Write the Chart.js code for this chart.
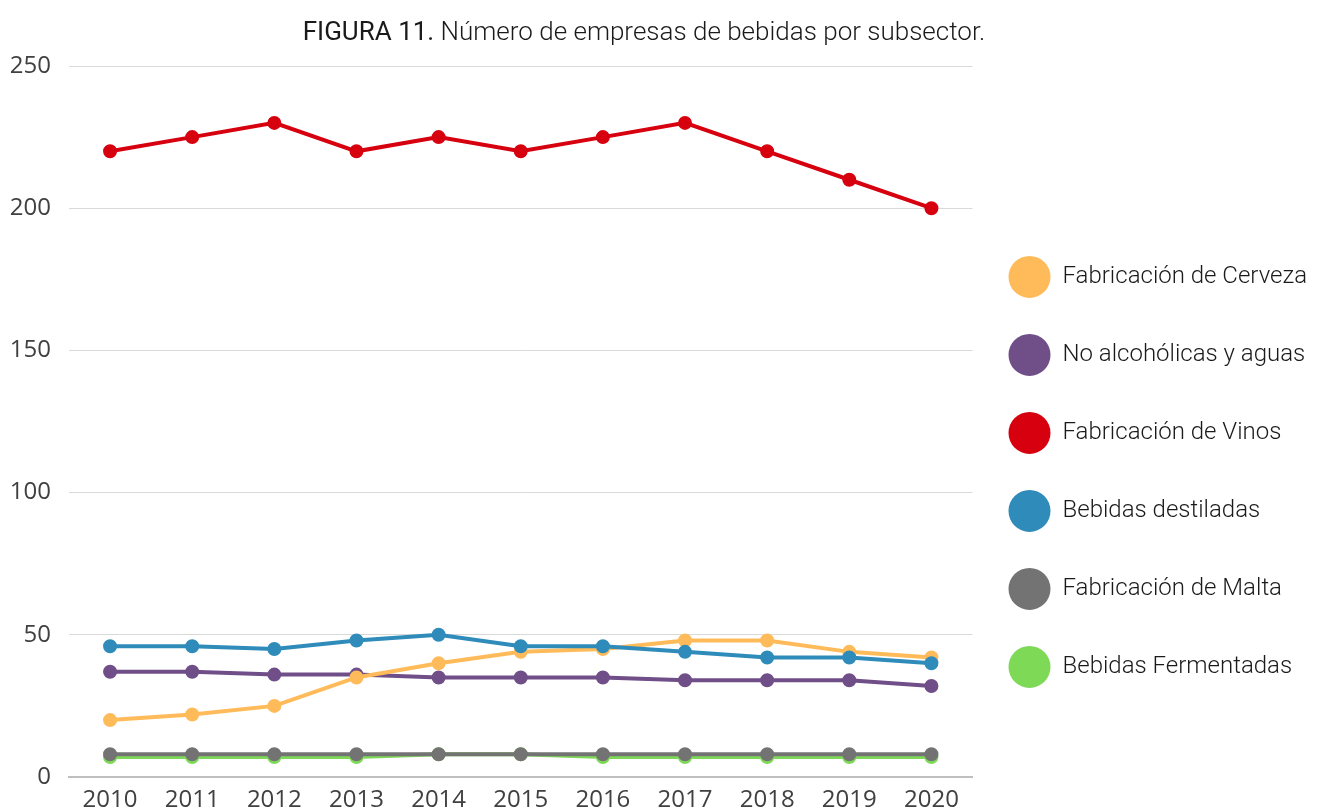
<!DOCTYPE html>
<html lang="es">
<head>
<meta charset="UTF-8">
<title>Número de empresas de bebidas por subsector</title>
<script src="https://cdn.jsdelivr.net/npm/chart.js"></script>
<style>
  html, body { margin: 0; padding: 0; background: #fff; }
  #wrap { width: 1324px; height: 812px; }
</style>
</head>
<body>
<div id="wrap"><canvas id="chart"></canvas></div>
<script>
const years = ['2010','2011','2012','2013','2014','2015','2016','2017','2018','2019','2020'];

const cerveza      = [20, 22, 25, 35, 40, 44, 45, 48, 48, 44, 42];
const noAlcoholicas = [37, 37, 36, 36, 35, 35, 35, 34, 34, 34, 32];
const vinos        = [220, 225, 230, 220, 225, 220, 225, 230, 220, 210, 200];
const destiladas   = [46, 46, 45, 48, 50, 46, 46, 44, 42, 42, 40];
const malta        = [8, 8, 8, 8, 8, 8, 8, 8, 8, 8, 8];
const fermentadas  = [7, 7, 7, 7, 8, 8, 7, 7, 7, 7, 7];

const titleFirst = 'FIGURA 11.';
const titleRest = ' Número de empresas de bebidas por subsector.';

function series(label, data, color, order) {
    return {
        label: label,
        data: data,
        borderColor: color,
        backgroundColor: color,
        pointBackgroundColor: color,
        pointBorderColor: color,
        borderWidth: 4,
        pointRadius: 5,
        pointHoverRadius: 6,
        tension: 0,
        fill: false,
        order: order
    };
}

// title in two weights, like the original figure
const titlePlugin = {
    id: 'twoWeightTitle',
    afterDraw(chart) {
        const ctx = chart.ctx;
        ctx.save();
        ctx.textBaseline = 'middle';
        ctx.fillStyle = '#1a1a1a';
        const f1 = '400 26px Roboto';
        const f2 = '300 26px Roboto';
        ctx.font = f1;
        const w1 = ctx.measureText(titleFirst).width;
        ctx.font = f2;
        const w2 = ctx.measureText(titleRest).width;
        let x = 644 - (w1 + w2) / 2;
        ctx.font = f1;
        ctx.fillText(titleFirst, x, 33);
        ctx.font = f2;
        ctx.fillText(titleRest, x + w1, 33);
        ctx.restore();
    }
};

const ctx = document.getElementById('chart').getContext('2d');
const chart = new Chart(ctx, {
    type: 'line',
    data: {
        labels: years,
        datasets: [
            series('Fabricación de Cerveza', cerveza, '#FFBB5A', 3),
            series('No alcohólicas y aguas', noAlcoholicas, '#704E88', 4),
            series('Fabricación de Vinos', vinos, '#D7000F', 1),
            series('Bebidas destiladas', destiladas, '#2E8BBA', 2),
            series('Fabricación de Malta', malta, '#737373', 5),
            series('Bebidas Fermentadas', fermentadas, '#7ED957', 6)
        ]
    },
    options: {
        responsive: true,
        maintainAspectRatio: false,
        animation: false,
        layout: { padding: { top: 66, left: 9, right: 7, bottom: 0 } },
        plugins: {
            title: { display: false },
            tooltip: { enabled: false },
            legend: {
                position: 'right',
                maxWidth: 400,
                title: {
                    display: true,
                    text: ' ',
                    font: { family: 'Roboto', size: 24 },
                    padding: { top: 0, bottom: 37 }
                },
                labels: {
                    boxWidth: 42,
                    boxHeight: 42,
                    useBorderRadius: true,
                    borderRadius: 21,
                    padding: 36,
                    color: '#1a1a1a',
                    font: { family: 'Roboto', size: 24, weight: '300' },
                    generateLabels(chart) {
                        return chart.data.datasets.map((ds, i) => ({
                            text: ds.label,
                            fillStyle: ds.borderColor,
                            strokeStyle: ds.borderColor,
                            fontColor: '#1a1a1a',
                            lineWidth: 0,
                            hidden: false,
                            datasetIndex: i,
                            borderRadius: 21
                        }));
                    }
                }
            }
        },
        scales: {
            x: {
                offset: true,
                afterFit(scale) { scale.height = 35; },
                grid: { display: false, drawTicks: false },
                border: { display: true, color: '#bfbfbf', width: 2 },
                ticks: {
                    color: '#404040',
                    padding: 9,
                    maxRotation: 0,
                    font: { family: 'Open Sans', size: 24 }
                }
            },
            y: {
                min: 0,
                max: 250,
                afterFit(scale) { scale.width = 60; },
                grid: { color: '#d9d9d9', lineWidth: 1, drawTicks: false },
                border: { display: false },
                ticks: {
                    stepSize: 50,
                    color: '#404040',
                    padding: 18,
                    font: { family: 'Open Sans', size: 24 }
                }
            }
        }
    },
    plugins: [titlePlugin]
});
</script>
</body>
</html>
